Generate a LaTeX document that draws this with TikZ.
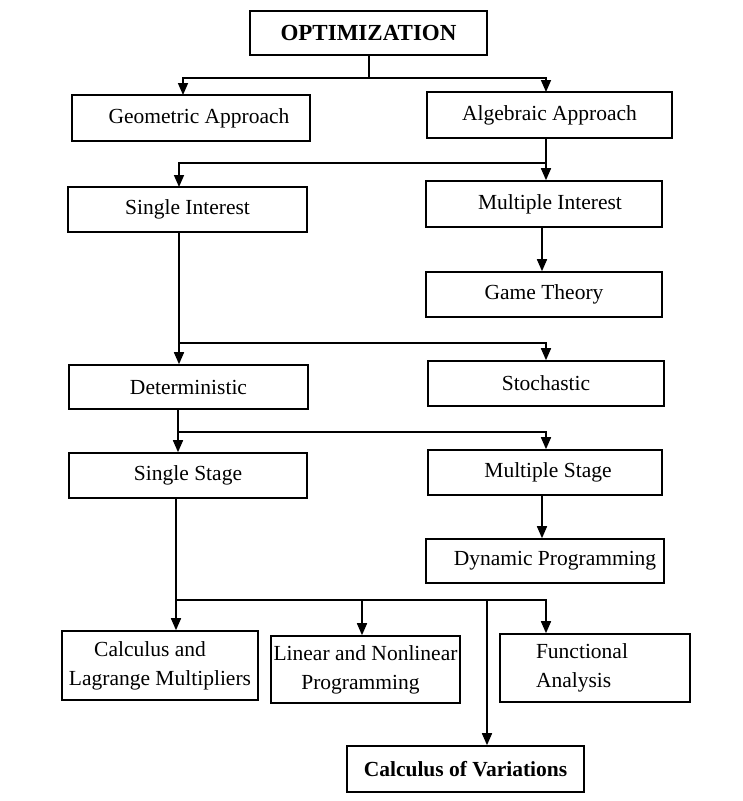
\documentclass[tikz,border=0pt]{standalone}
\usepackage{fontspec}
\setmainfont{Liberation Serif}
\usetikzlibrary{arrows.meta}
\begin{document}
\begin{tikzpicture}[x=1pt,y=-1pt,
  box/.style={draw,line width=1.6pt,rectangle,inner sep=0pt,font=\fontsize{21.5}{29}\selectfont},
  conn/.style={line width=1.6pt},
  arr/.style={line width=1.6pt,-{Triangle[length=12pt,width=10pt]}}]
\useasboundingbox (0,0) rectangle (743,801);
\fill[white] (0,0) rectangle (743,801);
% nodes
\node[box,minimum width=237pt,minimum height=44pt,font=\fontsize{23}{28}\selectfont\bfseries] (opt) at (368.5,33) {OPTIMIZATION};
\node[box,minimum width=238pt,minimum height=46pt] (geo) at (191,118) {\hspace{16pt}Geometric Approach};
\node[box,minimum width=245pt,minimum height=46pt] (alg) at (549.5,115) {Algebraic Approach};
\node[box,minimum width=239pt,minimum height=45pt] (si) at (187.5,209.5) {Single Interest};
\node[box,minimum width=236pt,minimum height=46pt] (mi) at (544,204) {\hspace{12pt}Multiple Interest};
\node[box,minimum width=236pt,minimum height=45pt] (gt) at (544,294.5) {Game Theory};
\node[box,minimum width=239pt,minimum height=44pt] (det) at (188.5,387) {Deterministic};
\node[box,minimum width=236pt,minimum height=45pt] (sto) at (546,383.5) {Stochastic};
\node[box,minimum width=238pt,minimum height=45pt] (ss) at (188,475.5) {Single Stage};
\node[box,minimum width=234pt,minimum height=45pt] (ms) at (545,472.5) {\hspace{6pt}Multiple Stage};
\node[box,minimum width=238pt,minimum height=44pt] (dp) at (545,561) {\hspace{20pt}Dynamic Programming};
\node[box,minimum width=196pt,minimum height=69pt,align=center] (calc) at (160,665.5) {\hspace{-20pt}Calculus and\\Lagrange Multipliers};
\node[box,minimum width=189pt,minimum height=67pt,align=center] (lin) at (365.5,669.5) {Linear and Nonlinear\\\hspace{-10pt}Programming};
\node[box,minimum width=190pt,minimum height=68pt,align=left] (func) at (595,668) {\hspace{-26pt}Functional\\\hspace{-26pt}Analysis};
\node[box,minimum width=237pt,minimum height=46pt,font=\fontsize{21.5}{29}\selectfont\bfseries] (cov) at (465.5,769) {Calculus of Variations};
% junctions
\coordinate (j1) at (369,78);
\coordinate (j2) at (546,163);
\coordinate (j3) at (179,343);
\coordinate (j4) at (178,432);
\coordinate (j5) at (176,600);
\coordinate (j5b) at (487,600);
% connectors
\draw[conn] (opt.south -| j1) -- (j1);
\draw[arr] (j1) -| (183,95);
\draw[arr] (j1) -| (546,92);
\draw[conn] (alg.south -| j2) -- (j2);
\draw[arr] (j2) -| (179,187);
\draw[arr] (j2) -- (j2 |- mi.north);
\draw[arr] (542,0 |- mi.south) -- (542,0 |- gt.north);
\draw[conn] (si.south -| j3) -- (j3);
\draw[arr] (j3) -- (j3 |- det.north);
\draw[arr] (j3) -| (546,0 |- sto.north);
\draw[conn] (det.south -| j4) -- (j4);
\draw[arr] (j4) -- (j4 |- ss.north);
\draw[arr] (j4) -| (546,0 |- ms.north);
\draw[arr] (542,0 |- ms.south) -- (542,0 |- dp.north);
\draw[conn] (ss.south -| j5) -- (j5);
\draw[arr] (j5) -- (j5 |- calc.north);
\draw[arr] (j5) -| (362,0 |- lin.north);
\draw[arr] (j5) -| (546,0 |- func.north);
\draw[arr] (j5b) -- (j5b |- cov.north);
\end{tikzpicture}
\end{document}
